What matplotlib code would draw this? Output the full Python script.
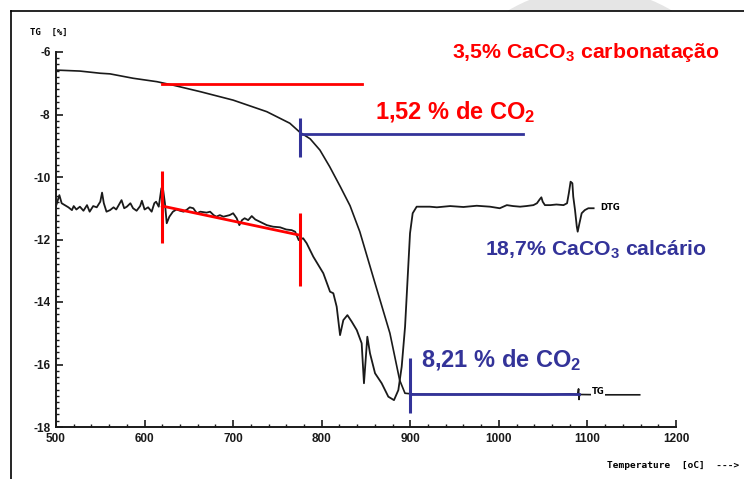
import numpy as np
import matplotlib
matplotlib.use('Agg')
import matplotlib.pyplot as plt
from matplotlib.lines import Line2D
from matplotlib.patches import Ellipse, Rectangle
from matplotlib.ticker import MultipleLocator

plt.rcParams['font.family'] = ['Liberation Sans', 'DejaVu Sans']
plt.rcParams['axes.unicode_minus'] = False
plt.rcParams['mathtext.fontset'] = 'custom'
plt.rcParams['mathtext.bf'] = 'Liberation Sans:bold'
plt.rcParams['mathtext.rm'] = 'Liberation Sans:bold'
plt.rcParams['mathtext.default'] = 'bf'

RED = '#ff0000'
BLUE = '#333399'
INK = '#1a1a1a'

# TG curve (mass loss, %)
tg_temp = [501, 527, 550, 561, 587, 614, 632, 663, 700, 738, 764, 775,
           787, 798, 809, 821, 832, 843, 858, 877, 888, 894, 905, 950,
           1000, 1050, 1080, 1089, 1090, 1090.5, 1091, 1120, 1159]
tg_val = [-6.58, -6.61, -6.68, -6.70, -6.84, -6.95, -7.06, -7.27, -7.54,
          -7.91, -8.28, -8.56, -8.78, -9.14, -9.67, -10.31, -10.92, -11.75,
          -13.19, -15.0, -16.5, -16.92, -16.95, -16.96, -16.95, -16.97,
          -16.94, -16.96, -16.78, -17.12, -16.96, -16.97, -16.97]

# DTG curve (derivative, drawn on the same scale)
dtg_temp = [500, 503.8, 506.4, 510, 514, 518, 520, 523, 527, 531, 535, 538,
            542, 546, 550, 552, 554, 557, 561, 565, 568, 572, 574, 577, 580,
            584, 587, 591, 595, 597, 600, 604, 608, 611, 613, 616, 619, 621,
            623, 625, 628, 632, 636, 640, 644, 648, 651, 655, 659, 663, 670,
            674, 678, 681, 685, 689, 696, 700, 704, 707, 710, 713, 717, 721,
            725, 730, 738, 745, 753, 760, 766, 770, 774, 779, 783, 790.5,
            801.8, 809.4, 813.1, 816.9, 820.7, 824.4, 829.0, 833.9, 839.6,
            845.1, 847.7, 851.5, 854.5, 860.2, 867.7, 875.2, 881.6, 886.5,
            890.3, 894.1, 896.7, 899.7, 902.7, 907.2, 922, 930, 945, 960, 975,
            990, 1001, 1009, 1016, 1024, 1031, 1039, 1043, 1046, 1048,
            1049.5, 1052, 1058, 1065, 1073, 1077, 1079, 1081, 1083, 1084,
            1086, 1088, 1089, 1091, 1093.5, 1097, 1101, 1107]
dtg_val = [-10.93, -10.58, -10.84, -10.90, -10.97, -11.06, -10.93, -11.04,
           -10.95, -11.08, -10.90, -11.11, -10.93, -10.97, -10.79, -10.50,
           -10.84, -11.11, -11.06, -10.97, -11.04, -10.84, -10.74, -11.00,
           -10.95, -10.84, -11.00, -11.08, -10.93, -10.76, -11.04, -10.97,
           -11.11, -10.84, -10.79, -10.95, -10.36, -10.42, -10.84, -11.48,
           -11.27, -11.11, -11.04, -11.08, -11.11, -11.04, -10.97, -11.00,
           -11.16, -11.11, -11.14, -11.11, -11.22, -11.27, -11.22, -11.27,
           -11.22, -11.16, -11.32, -11.54, -11.38, -11.32, -11.38, -11.25,
           -11.36, -11.43, -11.54, -11.59, -11.61, -11.68, -11.70, -11.75,
           -12.02, -11.96, -12.12, -12.55, -13.08, -13.67, -13.72, -14.15,
           -15.06, -14.58, -14.42, -14.63, -14.90, -15.32, -16.60, -15.11,
           -15.64, -16.28, -16.60, -17.03, -17.14, -16.82, -16.07, -14.79,
           -13.40, -11.80, -11.16, -10.95, -10.95, -10.97, -10.93, -10.96,
           -10.92, -10.95, -11.00, -10.90, -10.93, -10.95, -10.93, -10.90,
           -10.84, -10.72, -10.65, -10.79, -10.90, -10.90, -10.88, -10.90,
           -10.84, -10.52, -10.15, -10.20, -10.63, -11.06, -11.59, -11.75,
           -11.48, -11.16, -11.06, -11.00, -11.00]

# annotation marks (temperature, %)
red_hline_t = [620, 845]
red_hline_v = [-7.03, -7.03]
red_slope_t = [620, 775]
red_slope_v = [-10.93, -11.86]
red_vlines_t = [620, 775]
red_vlines_lo = [-12.1, -13.5]
red_vlines_hi = [-9.81, -11.15]
blue_top_t = [775, 1027]
blue_top_v = [-8.62, -8.62]
blue_top_vspan = [-8.1, -9.36]
blue_bot_t = [900, 1090]
blue_bot_v = [-16.94, -16.94]
blue_bot_vspan = [-15.8, -17.55]

fig = plt.figure(figsize=(7.44, 4.79), dpi=100)
W, H = 744, 479

# background decoration: grey dome above the frame
clip = Rectangle((0, 1 - 11 / H), 1, 11 / H, transform=fig.transFigure,
                 visible=False)
fig.add_artist(clip)
dome = Ellipse((590 / W, 1 - 148 / H), 320 / W, 320 / H,
               transform=fig.transFigure, facecolor='#e5e5e5',
               edgecolor='none', zorder=0)
fig.add_artist(dome)
dome.set_clip_path(clip)
# slide frame
fig.add_artist(Line2D([11 / W, 11 / W], [0, 1 - 11 / H], color='black',
                      lw=1.2, transform=fig.transFigure))
fig.add_artist(Line2D([11 / W, 1], [1 - 11 / H, 1 - 11 / H], color='black',
                      lw=1.2, transform=fig.transFigure))

ax = fig.add_axes([56 / W, 1 - 427 / H, 620 / W, 375 / H])
ax.set_facecolor('none')
ax.plot(tg_temp, tg_val, color=INK, lw=1.2, zorder=3)
ax.plot(dtg_temp, dtg_val, color=INK, lw=1.3, zorder=3)

ax.plot(red_hline_t, red_hline_v, color=RED, lw=2, zorder=4)
ax.plot(red_slope_t, red_slope_v, color=RED, lw=2, zorder=4)
ax.vlines(red_vlines_t, red_vlines_lo, red_vlines_hi, color=RED, lw=2.2,
          zorder=4)
ax.plot(blue_top_t, blue_top_v, color=BLUE, lw=2, zorder=4)
ax.vlines(blue_top_t[0], *blue_top_vspan, color=BLUE, lw=2.2, zorder=4)
ax.plot(blue_bot_t, blue_bot_v, color=BLUE, lw=2, zorder=4)
ax.vlines(blue_bot_t[0], *blue_bot_vspan, color=BLUE, lw=2.2, zorder=4)

ax.text(1114, -10.97, 'DTG', fontsize=6, fontweight='bold',
        family='DejaVu Sans', va='center', ha='left')
ax.text(1105, -16.88, 'TG', fontsize=6, fontweight='bold',
        family='DejaVu Sans', va='center', ha='left',
        bbox=dict(facecolor='white', edgecolor='none', pad=0.3))

ax.text(947, -6.0, '3,5% CaCO$_3$ carbonatação', color=RED, fontsize=15.3,
        fontweight='bold', va='center', ha='left', clip_on=False)
ax.text(860, -7.92, '1,52 % de CO$_2$', color=RED, fontsize=17,
        fontweight='bold', va='center', ha='left', clip_on=False)
ax.text(984, -12.34, '18,7% CaCO$_3$ calcário', color=BLUE, fontsize=15.3,
        fontweight='bold', va='center', ha='left', clip_on=False)
ax.text(912, -15.86, '8,21 % de CO$_2$', color=BLUE, fontsize=17,
        fontweight='bold', va='center', ha='left', clip_on=False)

ax.set_xlim(500, 1200)
ax.set_ylim(-18, -6)
for side in ['top', 'right']:
    ax.spines[side].set_visible(False)
for side in ['left', 'bottom']:
    ax.spines[side].set_linewidth(1.4)
    ax.spines[side].set_color(INK)
ax.xaxis.set_major_locator(MultipleLocator(100))
ax.xaxis.set_minor_locator(MultipleLocator(20))
ax.yaxis.set_major_locator(MultipleLocator(2))
ax.yaxis.set_minor_locator(MultipleLocator(0.2))
ax.tick_params(which='major', direction='in', length=5, width=1.2,
               labelsize=8.5, pad=4, colors=INK)
ax.tick_params(which='minor', direction='in', length=2.5, width=1,
               colors=INK)
for lab in ax.get_xticklabels() + ax.get_yticklabels():
    lab.set_fontweight('bold')

fig.text(30 / W, 1 - 32 / H, 'TG  [%]', fontsize=6.5, fontweight='bold',
         family='DejaVu Sans Mono', va='center', ha='left')
fig.text(607 / W, 1 - 465 / H, 'Temperature  [oC]  --->', fontsize=6.8,
         fontweight='bold', family='DejaVu Sans Mono', va='center',
         ha='left')

fig.savefig('out.png', dpi=100)
